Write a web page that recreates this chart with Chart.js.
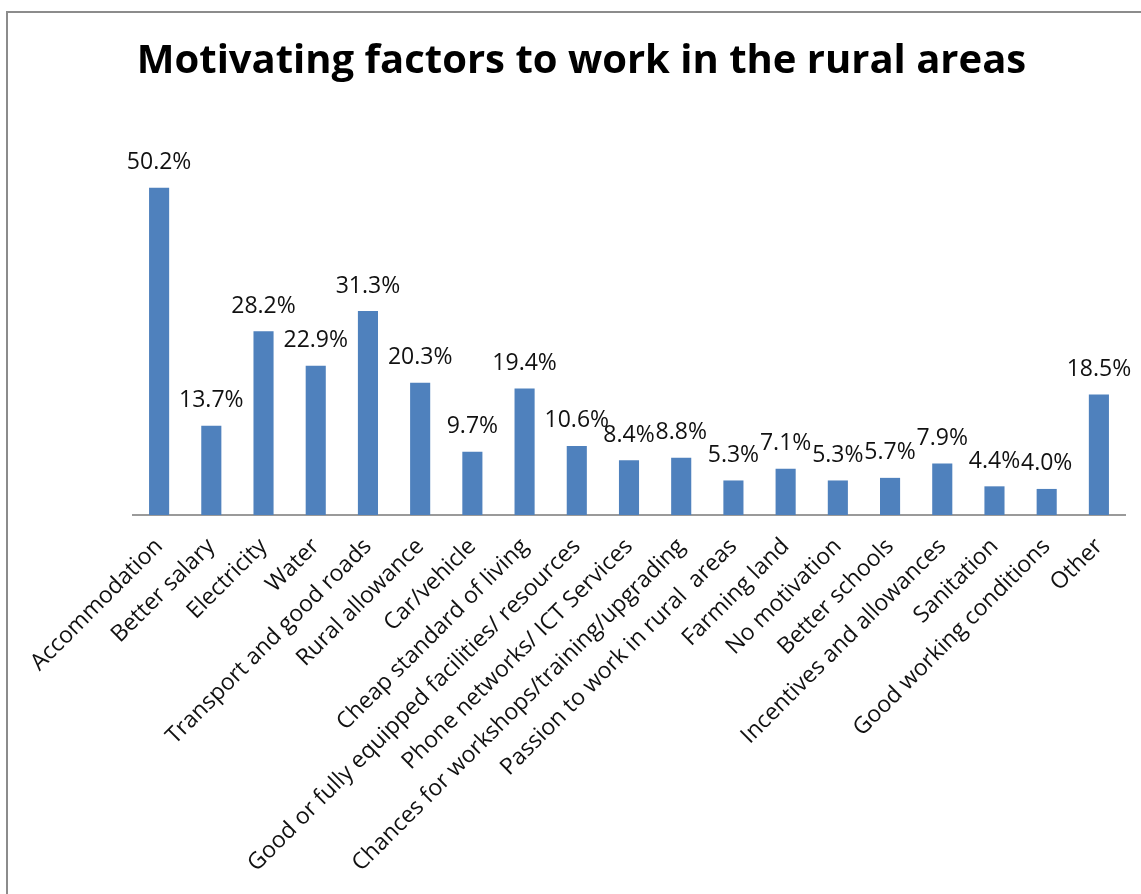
<!DOCTYPE html>
<html>
<head>
<meta charset="utf-8">
<title>Motivating factors to work in the rural areas</title>
<script src="https://cdn.jsdelivr.net/npm/chart.js@4/dist/chart.umd.min.js"></script>
<style>
  html, body { margin: 0; padding: 0; background: #ffffff; }
  canvas { display: block; }
</style>
</head>
<body>
<canvas id="chart" width="1141" height="894"></canvas>
<script>
// Survey categories (x axis)
const factors = [
  "Accommodation",
  "Better salary",
  "Electricity",
  "Water",
  "Transport and good roads",
  "Rural allowance",
  "Car/vehicle",
  "Cheap standard of living",
  "Good or fully equipped facilities/ resources",
  "Phone networks/ ICT Services",
  "Chances for workshops/training/upgrading",
  "Passion to work in rural  areas",
  "Farming land",
  "No motivation",
  "Better schools",
  "Incentives and allowances",
  "Sanitation",
  "Good working conditions",
  "Other"
];

// Share of respondents citing each factor (%)
const percentages = [50.2, 13.7, 28.2, 22.9, 31.3, 20.3, 9.7, 19.4, 10.6, 8.4, 8.8, 5.3, 7.1, 5.3, 5.7, 7.9, 4.4, 4.0, 18.5];

const chartTitle = "Motivating factors to work in the rural areas";

const FONT = "'Open Sans', 'DejaVu Sans', sans-serif";

// Outer frame: left and top edges of the chart border
const framePlugin = {
  id: 'frame',
  beforeDraw(chart) {
    const ctx = chart.ctx;
    ctx.save();
    ctx.strokeStyle = '#8c8c8c';
    ctx.lineWidth = 2;
    ctx.beginPath();
    ctx.moveTo(7, chart.height);
    ctx.lineTo(7, 12);
    ctx.lineTo(chart.width, 12);
    ctx.stroke();
    ctx.restore();
  }
};

// Percentage labels above each bar
const valueLabels = {
  id: 'valueLabels',
  afterDatasetsDraw(chart) {
    const ctx = chart.ctx;
    const meta = chart.getDatasetMeta(0);
    const data = chart.data.datasets[0].data;
    ctx.save();
    ctx.font = `23px ${FONT}`;
    ctx.fillStyle = '#111111';
    ctx.textAlign = 'center';
    ctx.textBaseline = 'alphabetic';
    meta.data.forEach((bar, i) => {
      ctx.fillText(data[i].toFixed(1) + '%', bar.x, bar.y - 18.5);
    });
    ctx.restore();
  }
};

new Chart(document.getElementById('chart'), {
  type: 'bar',
  data: {
    labels: factors,
    datasets: [{
      data: percentages,
      backgroundColor: '#4f81bd',
      borderWidth: 0,
      categoryPercentage: 1,
      barPercentage: 0.385
    }]
  },
  options: {
    responsive: false,
    animation: false,
    layout: { padding: { left: 22, right: 0, top: 0, bottom: 0 } },
    plugins: {
      legend: { display: false },
      tooltip: { enabled: false },
      title: {
        display: true,
        text: chartTitle,
        color: '#000000',
        font: { family: FONT, size: 40, weight: 'bold', lineHeight: 1.2 },
        padding: { top: 38, bottom: 38 }
      }
    },
    scales: {
      x: {
        grid: { display: false },
        border: { display: true, color: '#9a9a9a', width: 2 },
        ticks: {
          autoSkip: false,
          maxRotation: 45,
          minRotation: 45,
          padding: 10,
          color: '#111111',
          font: { family: FONT, size: 23 }
        },
        afterFit(scale) {
          scale.paddingLeft = 133;
          scale.paddingRight = 16;
          scale.height = 379;
        }
      },
      y: {
        display: false,
        min: 0,
        max: 60
      }
    }
  },
  plugins: [framePlugin, valueLabels]
});
</script>
</body>
</html>
